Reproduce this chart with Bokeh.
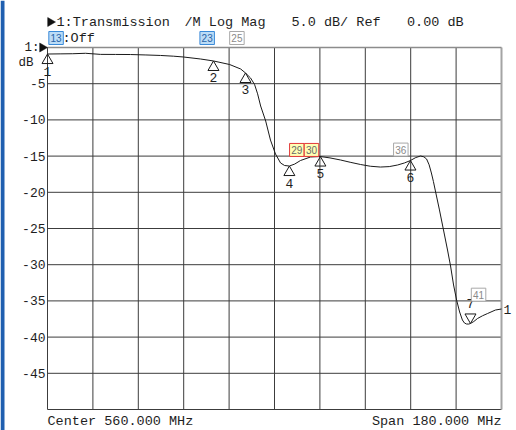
import math
from bokeh.plotting import figure
from bokeh.models import Range1d
from bokeh.embed import file_html
from bokeh.resources import INLINE
from bokeh.core.properties import value

# ---------------- data ----------------
CENTER_MHZ = 560.0
SPAN_MHZ = 180.0
REF_DB = 0.0
SCALE_DB = 5.0
N_DIV_X = 10
N_DIV_Y = 10

freq_mhz = [470.0, 475.0, 480.0, 485.1, 491.0, 497.0, 502.9, 509.0, 514.8, 520.0,
            523.9, 530.7, 535.8, 542.2, 546.6, 548.5, 550.5, 552.1, 553.3, 554.5,
            556.5, 558.4, 560.4, 562.4, 564.0, 565.9, 568.0, 570.3, 574.3, 578.2,
            582.0, 586.2, 590.0, 594.1, 598.0, 602.0, 605.5, 608.8, 611.5, 613.9,
            616.0, 617.9, 619.2, 620.3, 621.3, 622.2, 623.0, 623.8, 625.4, 627.0,
            628.6, 629.8, 631.0, 632.2, 633.4, 634.5, 635.3, 636.1, 637.0, 637.7,
            639.0, 640.5, 642.5, 644.5, 647.6, 650.0]
mag_db = [-0.90, -0.88, -0.86, -0.80, -0.95, -0.96, -0.97, -1.03, -1.10, -1.20,
          -1.31, -1.59, -1.86, -2.35, -2.97, -3.52, -4.21, -5.11, -6.40, -8.08,
          -10.15, -12.78, -14.71, -15.95, -16.30, -16.37, -16.10, -15.61, -15.12, -15.06,
          -15.25, -15.54, -15.85, -16.16, -16.40, -16.51, -16.45, -16.23, -15.95, -15.61,
          -15.20, -14.99, -15.10, -15.40, -16.20, -17.33, -18.50, -19.82, -22.44, -25.20,
          -27.97, -30.18, -32.80, -34.88, -36.53, -37.64, -38.05, -38.19, -38.20, -38.12,
          -37.85, -37.43, -37.05, -36.74, -36.26, -36.12]

marker_ids = ["1", "2", "3", "4", "5", "6"]
marker_f = [470.0, 535.8, 548.5, 565.9, 578.2, 613.9]
marker_db = [-0.90, -1.86, -3.52, -16.37, -15.06, -15.61]
low_marker_ids = ["7"]
low_marker_f = [637.7]
low_marker_db = [-38.12]

tag_labels = ["29", "30", "36", "41"]
tag_f = [568.85, 574.67, 610.08, 640.9]
tag_db = [-14.15, -14.15, -14.10, -34.14]
tag_kind = ["active", "active", "plain", "plain"]

top_tag_labels = ["13", "23", "25"]
top_tag_f = [473.4, 533.3, 545.1]
top_tag_kind = ["blue", "blue", "plain"]

# ---------------- layout ----------------
W, H = 516, 430
GX0, GX1 = 47, 501      # graticule left / right pixel
GY0, GY1 = 47, 409      # graticule top / bottom pixel
F_START = CENTER_MHZ - SPAN_MHZ / 2
F_STOP = CENTER_MHZ + SPAN_MHZ / 2
DB_BOTTOM = REF_DB - SCALE_DB * N_DIV_Y
MHZ_PER_PX = SPAN_MHZ / (GX1 - GX0)
DB_PER_PX = (REF_DB - DB_BOTTOM) / (GY1 - GY0)


def fx(px):
    return F_START + (px - GX0) * MHZ_PER_PX


def fy(py):
    return REF_DB - (py - GY0) * DB_PER_PX


MONO = value("Liberation Mono")
TXT = "#1e1e1e"

p = figure(width=W, height=H, output_backend="svg", toolbar_location=None,
           x_range=Range1d(fx(0), fx(W)), y_range=Range1d(fy(H), fy(0)),
           x_axis_location=None, y_axis_location=None, min_border=0,
           background_fill_color="white", border_fill_color="white")
p.outline_line_color = None
p.grid.visible = False

# left blue edge bar
p.quad(left=[fx(0)], right=[fx(4)], bottom=[fy(H)], top=[fy(0)],
       fill_color="#1f5fb0", line_color=None)

# graticule
xt = [F_START + SPAN_MHZ / N_DIV_X * k for k in range(N_DIV_X + 1)]
yt = [REF_DB - SCALE_DB * k for k in range(N_DIV_Y + 1)]
p.segment(x0=xt[:-1], x1=xt[:-1], y0=[DB_BOTTOM] * (len(xt) - 1), y1=[REF_DB] * (len(xt) - 1),
          line_color="#3c3c3c", line_width=1)
p.segment(x0=[F_START] * (len(yt) - 1), x1=[F_STOP] * (len(yt) - 1), y0=yt[1:], y1=yt[1:],
          line_color="#3c3c3c", line_width=1)
p.segment(x0=[F_STOP], x1=[F_STOP], y0=[DB_BOTTOM], y1=[REF_DB], line_color="#a4a4a4", line_width=2)
p.segment(x0=[F_START], x1=[F_STOP], y0=[REF_DB], y1=[REF_DB], line_color="#8c8c8c", line_width=1.5)

# y tick labels
ytl = [f"{t:g}" for t in yt[1:-1]]
p.text([F_START] * len(ytl), yt[1:-1], text=ytl, x_offset=-2, text_align="right",
       text_baseline="middle", text_font=MONO, text_font_size="13px", text_color=TXT)

# trace
p.line(freq_mhz, mag_db, line_color="#1a1a1a", line_width=1)

# markers (apex of triangle on the trace)
TRI = 11
apex = (TRI / 2) * 3 ** 0.5 * 2 / 3
p.scatter(marker_f, [d - apex * DB_PER_PX for d in marker_db], marker="triangle",
          size=TRI, fill_color=None, line_color="#1a1a1a", line_width=1)
p.text(marker_f, marker_db, text=marker_ids, y_offset=17, text_align="center",
       text_baseline="middle", text_font_size="13px", text_color=TXT, text_font=MONO)
p.scatter(low_marker_f, [d + apex * DB_PER_PX for d in low_marker_db], marker="inverted_triangle",
          size=TRI, fill_color=None, line_color="#1a1a1a", line_width=1)
p.text(low_marker_f, low_marker_db, text=low_marker_ids, y_offset=-20, text_align="center",
       text_baseline="middle", text_font_size="13px", text_color=TXT, text_font=MONO)

# trace end label
p.text([F_STOP], [mag_db[-1]], text=["1"], x_offset=2, text_align="left",
       text_baseline="middle", text_font=MONO, text_font_size="13px", text_color=TXT)

# numbered tags (boxes)
STYLES = {
    "active": ("#ffffb4", "#e23a3a", "#6a6a6a"),
    "plain": ("white", "#a8a8a8", "#8a8a8a"),
    "blue": ("#bcdcf6", "#3a8ad8", "#2a64a6"),
}
BOX_W, BOX_H = 14.5, 13.0
all_lab = tag_labels + top_tag_labels
all_f = tag_f + top_tag_f
all_db = tag_db + [fy(37.5)] * len(top_tag_labels)
all_kind = tag_kind + top_tag_kind
p.quad(left=[f - BOX_W / 2 * MHZ_PER_PX for f in all_f],
       right=[f + BOX_W / 2 * MHZ_PER_PX for f in all_f],
       bottom=[d - BOX_H / 2 * DB_PER_PX for d in all_db],
       top=[d + BOX_H / 2 * DB_PER_PX for d in all_db],
       fill_color=[STYLES[k][0] for k in all_kind], line_color=[STYLES[k][1] for k in all_kind],
       line_width=1)
p.text(all_f, all_db, text=all_lab, text_align="center", text_baseline="middle",
       text_font=value("Liberation Sans"), text_font_size="10px",
       text_color=[STYLES[k][2] for k in all_kind])

# pointer glyphs (solid right-pointing triangles)
PT = 9
pt_h = (PT / 2) * 3 ** 0.5
p.scatter([fx(55 - pt_h * 2 / 3), fx(47 - pt_h * 2 / 3)], [fy(21.5), REF_DB], marker="triangle",
          angle=-math.pi / 2, size=PT, fill_color="#111111", line_color="#111111", line_width=0.5)

# header texts
hdr_text = ["1:Transmission", "/M Log Mag", f"{SCALE_DB:.1f} dB/ Ref", f"{REF_DB:.2f} dB", ":Off"]
hdr_px = [56, 184, 291, 406.5, 62]
hdr_py = [21.5, 21.5, 21.5, 21.5, 37.5]
p.text([fx(v) for v in hdr_px], [fy(v) for v in hdr_py], text=hdr_text, text_align="left",
       text_baseline="middle", text_font=MONO, text_font_size="13.5px", text_color=TXT)

# reference position indicator
p.text([F_START], [REF_DB], text=["1:"], x_offset=-8, text_align="right", text_baseline="middle",
       text_font=MONO, text_font_size="12.5px", text_color=TXT)
p.text([F_START], [REF_DB], text=["dB"], x_offset=-14, y_offset=15, text_align="right",
       text_baseline="middle", text_font=MONO, text_font_size="12.5px", text_color=TXT)

# footer
p.text([F_START], [fy(421)], text=[f"Center {CENTER_MHZ:.3f} MHz"], text_align="left",
       text_baseline="middle", text_font=MONO, text_font_size="13.5px", text_color=TXT)
p.text([F_STOP], [fy(421)], text=[f"Span {SPAN_MHZ:.3f} MHz"], text_align="right",
       text_baseline="middle", text_font=MONO, text_font_size="13.5px", text_color=TXT)

open("out.html", "w").write(file_html(p, INLINE))
